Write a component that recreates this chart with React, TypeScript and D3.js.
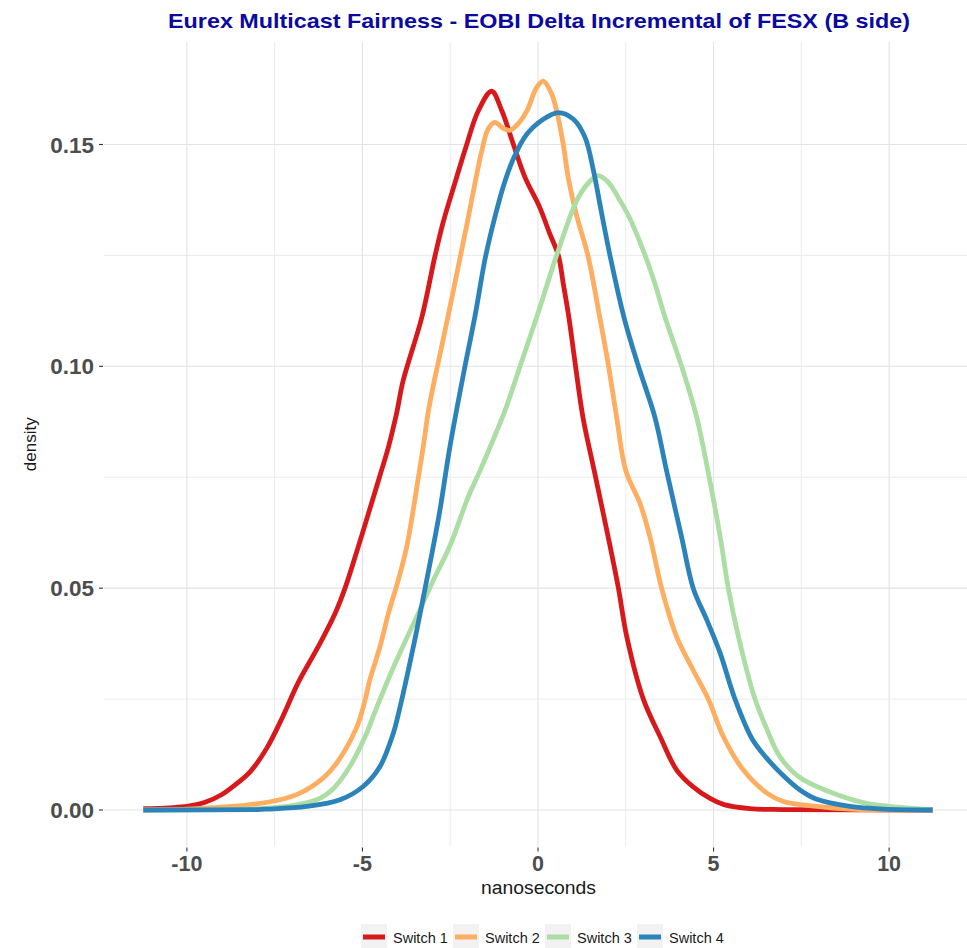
import React, { useEffect } from 'react';
import * as d3 from 'd3';

const seriesNames = ['Switch 1', 'Switch 2', 'Switch 3', 'Switch 4'];
const seriesColors = ['#D7191C', '#FDAE61', '#ABDDA4', '#2B83BA'];

const xTicks = [-10, -5, 0, 5, 10];
const xMinorTicks = [-7.5, -2.5, 2.5, 7.5];
const yTicks = [0, 0.05, 0.1, 0.15];
const yMinorTicks = [0.025, 0.075, 0.125];

// density estimates: [nanoseconds, density]
const switch1 = [
  [-11.24, 0.0003], [-10.5, 0.0005], [-10, 0.0008], [-9.5, 0.0017], [-9, 0.0035],
  [-8.7, 0.0052], [-8.2, 0.0086], [-7.72, 0.014], [-7.26, 0.0212], [-6.83, 0.0287],
  [-6.26, 0.0368], [-5.78, 0.0443], [-5.5, 0.0499], [-5.12, 0.0593], [-4.83, 0.0668],
  [-4.52, 0.0749], [-4.26, 0.0818], [-4.03, 0.0893], [-3.84, 0.0968], [-3.31, 0.111],
  [-2.93, 0.125], [-2.7, 0.1325], [-2.36, 0.1415], [-2.05, 0.1495], [-1.7, 0.1576],
  [-1.32, 0.162], [-1.03, 0.1576], [-0.7, 0.15], [-0.37, 0.1426], [0.04, 0.136],
  [0.34, 0.1298], [0.58, 0.125], [0.72, 0.1186], [0.88, 0.111], [1.07, 0.1],
  [1.28, 0.0885], [1.6, 0.0765], [2.0, 0.0615], [2.29, 0.05], [2.53, 0.039],
  [3.0, 0.025], [3.48, 0.0165], [3.95, 0.009], [4.42, 0.0052], [4.9, 0.0026],
  [5.3, 0.0012], [6.04, 0.0003], [7.0, 0.0001], [11.24, 0],
];

const switch2 = [
  [-11.24, 0], [-10, 0.0002], [-9.15, 0.0006], [-8.3, 0.0011], [-7.35, 0.0023],
  [-6.78, 0.0038], [-6.12, 0.0072], [-5.74, 0.0105], [-5.17, 0.0185], [-4.95, 0.024],
  [-4.79, 0.0293], [-4.5, 0.0368], [-4.26, 0.0443], [-3.98, 0.0518], [-3.74, 0.0593],
  [-3.57, 0.0668], [-3.42, 0.0743], [-3.27, 0.0818], [-3.12, 0.09], [-2.96, 0.0965],
  [-2.74, 0.1046], [-2.36, 0.119], [-2.0, 0.133], [-1.6, 0.1486],
  [-1.42, 0.1535], [-1.23, 0.155], [-1.0, 0.1537], [-0.8, 0.1532], [-0.55, 0.1548],
  [-0.32, 0.1575], [-0.04, 0.1628], [0.15, 0.1643], [0.39, 0.1614], [0.53, 0.1576],
  [0.72, 0.15], [0.86, 0.1426], [1.1, 0.134], [1.42, 0.125], [1.76, 0.111],
  [2.01, 0.1], [2.24, 0.0885], [2.5, 0.0765], [2.91, 0.069], [3.19, 0.0615],
  [3.52, 0.05], [3.95, 0.039], [4.42, 0.0315], [4.85, 0.025], [5.28, 0.0165],
  [5.85, 0.009], [6.52, 0.0038], [6.99, 0.0019], [7.94, 0.0008], [8.89, 0.0002],
  [11.24, 0],
];

const switch3 = [
  [-11.24, 0], [-9, 0.0001], [-8, 0.0003], [-7.16, 0.0008], [-6.3, 0.0023],
  [-5.83, 0.0048], [-5.36, 0.0098], [-4.88, 0.0173], [-4.7, 0.021], [-4.07, 0.033],
  [-3.41, 0.0443], [-2.98, 0.0518], [-2.51, 0.0595], [-1.99, 0.0705], [-1.65, 0.0765],
  [-1.3, 0.083], [-0.94, 0.09], [-0.51, 0.1], [-0.04, 0.111], [0.53, 0.125],
  [1.1, 0.1373], [1.4, 0.141], [1.7, 0.143], [2.0, 0.1415], [2.34, 0.1373],
  [2.6, 0.1336], [3.05, 0.125], [3.33, 0.1186], [3.62, 0.111], [4.09, 0.1],
  [4.52, 0.0885], [4.85, 0.076], [5.19, 0.0615], [5.42, 0.05], [5.71, 0.039],
  [6.18, 0.025], [6.52, 0.0182], [6.85, 0.0125], [7.27, 0.0085], [7.56, 0.0068],
  [8.41, 0.0038], [9.36, 0.0015], [10.3, 0.0006], [11.24, 0.0001],
];

const switch4 = [
  [-11.24, 0], [-8, 0.0001], [-7.7, 0.0002], [-6.59, 0.0008], [-5.64, 0.0023],
  [-4.98, 0.0053], [-4.5, 0.0098], [-4.12, 0.0173], [-3.98, 0.0215],
  [-3.55, 0.0368], [-3.17, 0.0518], [-2.81, 0.0668], [-2.51, 0.0818],
  [-2.08, 0.1], [-1.79, 0.1115], [-1.5, 0.1245], [-1.2, 0.1345],
  [-0.95, 0.1415], [-0.66, 0.1475], [-0.32, 0.1523], [0.15, 0.1557], [0.58, 0.1572],
  [1.01, 0.1557], [1.34, 0.1516], [1.58, 0.1441], [1.8, 0.135], [2.05, 0.125],
  [2.45, 0.111], [2.86, 0.1], [3.33, 0.0885], [3.66, 0.0765], [4.09, 0.0615],
  [4.42, 0.05], [4.81, 0.0428], [5.19, 0.0353], [5.61, 0.025], [6.1, 0.016],
  [6.5, 0.0118], [6.99, 0.0077], [7.46, 0.0045], [7.94, 0.0024], [8.89, 0.0008],
  [9.84, 0.0002], [11.24, 0],
];

const allSeries = [switch1, switch2, switch3, switch4];

const width = 967;
const height = 948;
const panel = { left: 104, right: 972, top: 42, bottom: 846.6 };
const font = '"Liberation Sans", Arial, Helvetica, sans-serif';

const App = () => {
  useEffect(() => {
    document.body.style.margin = '0';
  }, []);

  const xScale = d3.scaleLinear().domain([-12.36, 12.36]).range([panel.left, panel.right]);
  const yScale = d3.scaleLinear().domain([-0.00825, 0.1731]).range([panel.bottom, panel.top]);

  const line = d3.line<number[]>()
    .x(d => xScale(d[0]))
    .y(d => yScale(Math.max(0, d[1])))
    .curve(d3.curveCatmullRom.alpha(0.5));

  const gridColor = '#E3E3E3';
  const legendX = 361;
  const legendStep = 92;

  return (
    <svg width={width} height={height} style={{ display: 'block', background: '#fff' }} fontFamily={font}>
      {/* grid */}
      {xMinorTicks.map(t => (
        <line key={'xm' + t} x1={xScale(t)} x2={xScale(t)} y1={panel.top} y2={panel.bottom} stroke="#EBEBEB" strokeWidth={1} />
      ))}
      {yMinorTicks.map(t => (
        <line key={'ym' + t} x1={panel.left} x2={panel.right} y1={yScale(t)} y2={yScale(t)} stroke="#EBEBEB" strokeWidth={1} />
      ))}
      {xTicks.map(t => (
        <line key={'xg' + t} x1={xScale(t)} x2={xScale(t)} y1={panel.top} y2={panel.bottom} stroke={gridColor} strokeWidth={1.1} />
      ))}
      {yTicks.map(t => (
        <line key={'yg' + t} x1={panel.left} x2={panel.right} y1={yScale(t)} y2={yScale(t)} stroke={gridColor} strokeWidth={1.1} />
      ))}

      {/* density lines */}
      {allSeries.map((s, i) => (
        <path key={seriesNames[i]} d={line(s) || ''} fill="none" stroke={seriesColors[i]}
          strokeWidth={4.8} strokeLinejoin="round" />
      ))}

      {/* y axis */}
      {yTicks.map(t => (
        <g key={'yt' + t}>
          <line x1={panel.left - 5} x2={panel.left - 1} y1={yScale(t)} y2={yScale(t)} stroke="#333" strokeWidth={1.1} />
          <text x={panel.left - 10} y={yScale(t)} dy="0.36em" textAnchor="end" fontSize={22.5}
            fontWeight="bold" fill="#4D4D4D">{d3.format('.2f')(t)}</text>
        </g>
      ))}

      {/* x axis */}
      {xTicks.map(t => (
        <g key={'xt' + t}>
          <line x1={xScale(t)} x2={xScale(t)} y1={panel.bottom + 1} y2={panel.bottom + 5} stroke="#333" strokeWidth={1.1} />
          <text x={xScale(t)} y={870.5} textAnchor="middle" fontSize={21.5}
            fontWeight="bold" fill="#4D4D4D">{t}</text>
        </g>
      ))}

      {/* axis titles */}
      <text x={538.5} y={894} textAnchor="middle" fontSize={18} fill="#1A1A1A"
        textLength={115} lengthAdjust="spacingAndGlyphs">nanoseconds</text>
      <text transform={`translate(36, ${(panel.top + panel.bottom) / 2}) rotate(-90)`} textAnchor="middle"
        fontSize={17} fill="#1A1A1A">density</text>

      {/* title */}
      <text x={539} y={28} textAnchor="middle" fontSize={21} fontWeight="bold" fill="#0A0AA0"
        textLength={742} lengthAdjust="spacingAndGlyphs">
        Eurex Multicast Fairness - EOBI Delta Incremental of FESX (B side)
      </text>

      {/* legend */}
      {seriesNames.map((name, i) => {
        const x = legendX + i * legendStep;
        return (
          <g key={'lg' + name}>
            <rect x={x} y={924} width={26} height={26} fill="#F2F2F2" />
            <line x1={x + 2} x2={x + 24} y1={937} y2={937} stroke={seriesColors[i]} strokeWidth={5} />
            <text x={x + 32} y={943} fontSize={14.5} fill="#1A1A1A">{name}</text>
          </g>
        );
      })}
    </svg>
  );
};

export default App;
